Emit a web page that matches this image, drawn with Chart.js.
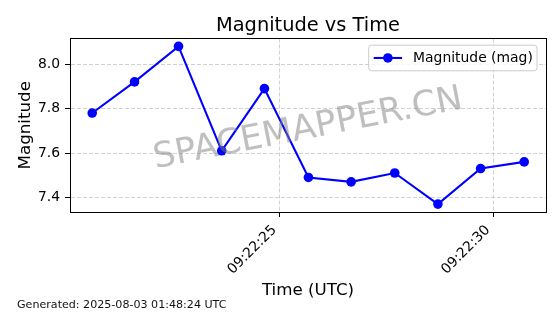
<!DOCTYPE html>
<html>
<head>
<meta charset="utf-8">
<title>Magnitude vs Time</title>
<script src="https://cdn.jsdelivr.net/npm/chart.js@4.4.1/dist/chart.umd.min.js"></script>
<style>
  html, body { margin: 0; padding: 0; background: #fff; }
  #wrap { width: 560px; height: 314px; position: relative; }
</style>
</head>
<body>
<div id="wrap"><canvas id="chart"></canvas></div>
<script>
const obsTimes = ['09:22:20.62', '09:22:21.61', '09:22:22.64', '09:22:23.65', '09:22:24.65', '09:22:25.68',
                  '09:22:26.68', '09:22:27.70', '09:22:28.71', '09:22:29.71', '09:22:30.73'];
const magnitudes = [7.78, 7.92, 8.08, 7.61, 7.89, 7.49, 7.47, 7.51, 7.37, 7.53, 7.56];
const xTickLabels = ['09:22:25', '09:22:30'];
const yTicks = [7.4, 7.6, 7.8, 8.0];
const seriesLabel = 'Magnitude (mag)';
const generatedAt = 'Generated: 2025-08-03 01:48:24 UTC';
const watermarkText = 'SPACEMAPPER.CN';

function toSeconds(hms) {
    const [h, m, s] = hms.split(':').map(Number);
    return h * 3600 + m * 60 + s;
}

const FONT = "'DejaVu Sans', sans-serif";
Chart.defaults.font.family = FONT;
Chart.defaults.color = '#000';

const gridOpts = { color: '#cccccc', lineWidth: 0.9, tickColor: '#000', tickLength: 5, tickWidth: 1, tickBorderDash: [] };
const borderOpts = { color: '#000', width: 1, dash: [4, 2] };

// watermark, box frame, legend and footer
const decorations = {
    id: 'decorations',
    afterDatasetsDraw(chart) {
        const { ctx, chartArea: ca } = chart;
        ctx.save();
        ctx.translate((ca.left + ca.right) / 2, (ca.top + ca.bottom) / 2 + 4);
        ctx.rotate(-11 * Math.PI / 180);
        ctx.font = `35px ${FONT}`;
        ctx.fillStyle = 'rgba(128,128,128,0.5)';
        ctx.textAlign = 'center';
        ctx.textBaseline = 'middle';
        ctx.fillText(watermarkText, 0, 0);
        ctx.restore();
    },
    afterDraw(chart) {
        const { ctx, chartArea: ca } = chart;
        const ds = chart.data.datasets[0];

        // top + right spines
        ctx.save();
        ctx.strokeStyle = '#000';
        ctx.lineWidth = 1;
        ctx.strokeRect(Math.round(ca.left) + 0.5, Math.round(ca.top) + 0.5,
                       Math.round(ca.right - ca.left), Math.round(ca.bottom - ca.top));
        ctx.restore();

        // legend
        ctx.save();
        ctx.font = `13.9px ${FONT}`;
        const tw = ctx.measureText(ds.label).width;
        const right = ca.right - 9, top = ca.top + 6.7, h = 25.6;
        const left = right - (tw + 48.6);
        const cy = top + h / 2;
        ctx.beginPath();
        ctx.roundRect(left, top, right - left, h, 3);
        ctx.fillStyle = 'rgba(255,255,255,0.8)';
        ctx.fill();
        ctx.strokeStyle = '#cccccc';
        ctx.lineWidth = 1;
        ctx.stroke();
        ctx.strokeStyle = ds.borderColor;
        ctx.lineWidth = ds.borderWidth;
        ctx.beginPath();
        ctx.moveTo(left + 5, cy);
        ctx.lineTo(left + 33.4, cy);
        ctx.stroke();
        ctx.fillStyle = ds.backgroundColor;
        ctx.beginPath();
        ctx.arc(left + 19.2, cy, ds.pointRadius, 0, Math.PI * 2);
        ctx.fill();
        ctx.fillStyle = '#000';
        ctx.textBaseline = 'middle';
        ctx.fillText(ds.label, left + 44.4, cy);
        ctx.restore();

        // footer
        ctx.save();
        ctx.font = `11.1px ${FONT}`;
        ctx.fillStyle = '#111';
        ctx.textBaseline = 'alphabetic';
        ctx.fillText(generatedAt, 17, 308.3);
        ctx.restore();
    }
};

new Chart(document.getElementById('chart'), {
    type: 'line',
    data: {
        datasets: [{
            label: seriesLabel,
            data: obsTimes.map((t, i) => ({ x: toSeconds(t), y: magnitudes[i] })),
            borderColor: '#0000ff',
            backgroundColor: '#0000ff',
            borderWidth: 2.1,
            pointRadius: 4.8,
            pointBorderWidth: 0,
            tension: 0
        }]
    },
    options: {
        responsive: true,
        maintainAspectRatio: false,
        animation: false,
        devicePixelRatio: 1,
        layout: { padding: { left: 0, right: 14, top: 0, bottom: 0 } },
        plugins: {
            legend: { display: false },
            tooltip: { enabled: false },
            title: {
                display: true,
                fullSize: false,
                text: 'Magnitude vs Time',
                color: '#000',
                font: { size: 19.4, weight: 'normal' },
                padding: { top: 14.4, bottom: 0.8 }
            }
        },
        scales: {
            x: {
                type: 'linear',
                min: toSeconds('09:22:20.10'),
                max: toSeconds('09:22:31.24'),
                afterBuildTicks(scale) {
                    scale.ticks = xTickLabels.map(t => ({ value: toSeconds(t) }));
                },
                afterFit(scale) { scale.height = 102; },
                ticks: {
                    callback: (v, i) => xTickLabels[i],
                    minRotation: 45,
                    maxRotation: 45,
                    padding: 5,
                    labelOffset: -5,
                    font: { size: 13.9 },
                    color: '#000'
                },
                grid: gridOpts,
                border: borderOpts,
                title: {
                    display: true,
                    text: 'Time (UTC)',
                    color: '#000',
                    font: { size: 16.7 },
                    padding: { top: 0, bottom: 13.5 }
                }
            },
            y: {
                min: 7.3345,
                max: 8.1155,
                afterBuildTicks(scale) {
                    scale.ticks = yTicks.map(v => ({ value: v }));
                },
                afterFit(scale) { scale.width = 70; },
                ticks: {
                    callback: v => v.toFixed(1),
                    padding: 5,
                    font: { size: 13.9 },
                    color: '#000'
                },
                grid: gridOpts,
                border: borderOpts,
                title: {
                    display: true,
                    text: 'Magnitude',
                    color: '#000',
                    font: { size: 16.7 },
                    padding: { top: 15.7, bottom: 0 }
                }
            }
        }
    },
    plugins: [decorations]
});
</script>
</body>
</html>
